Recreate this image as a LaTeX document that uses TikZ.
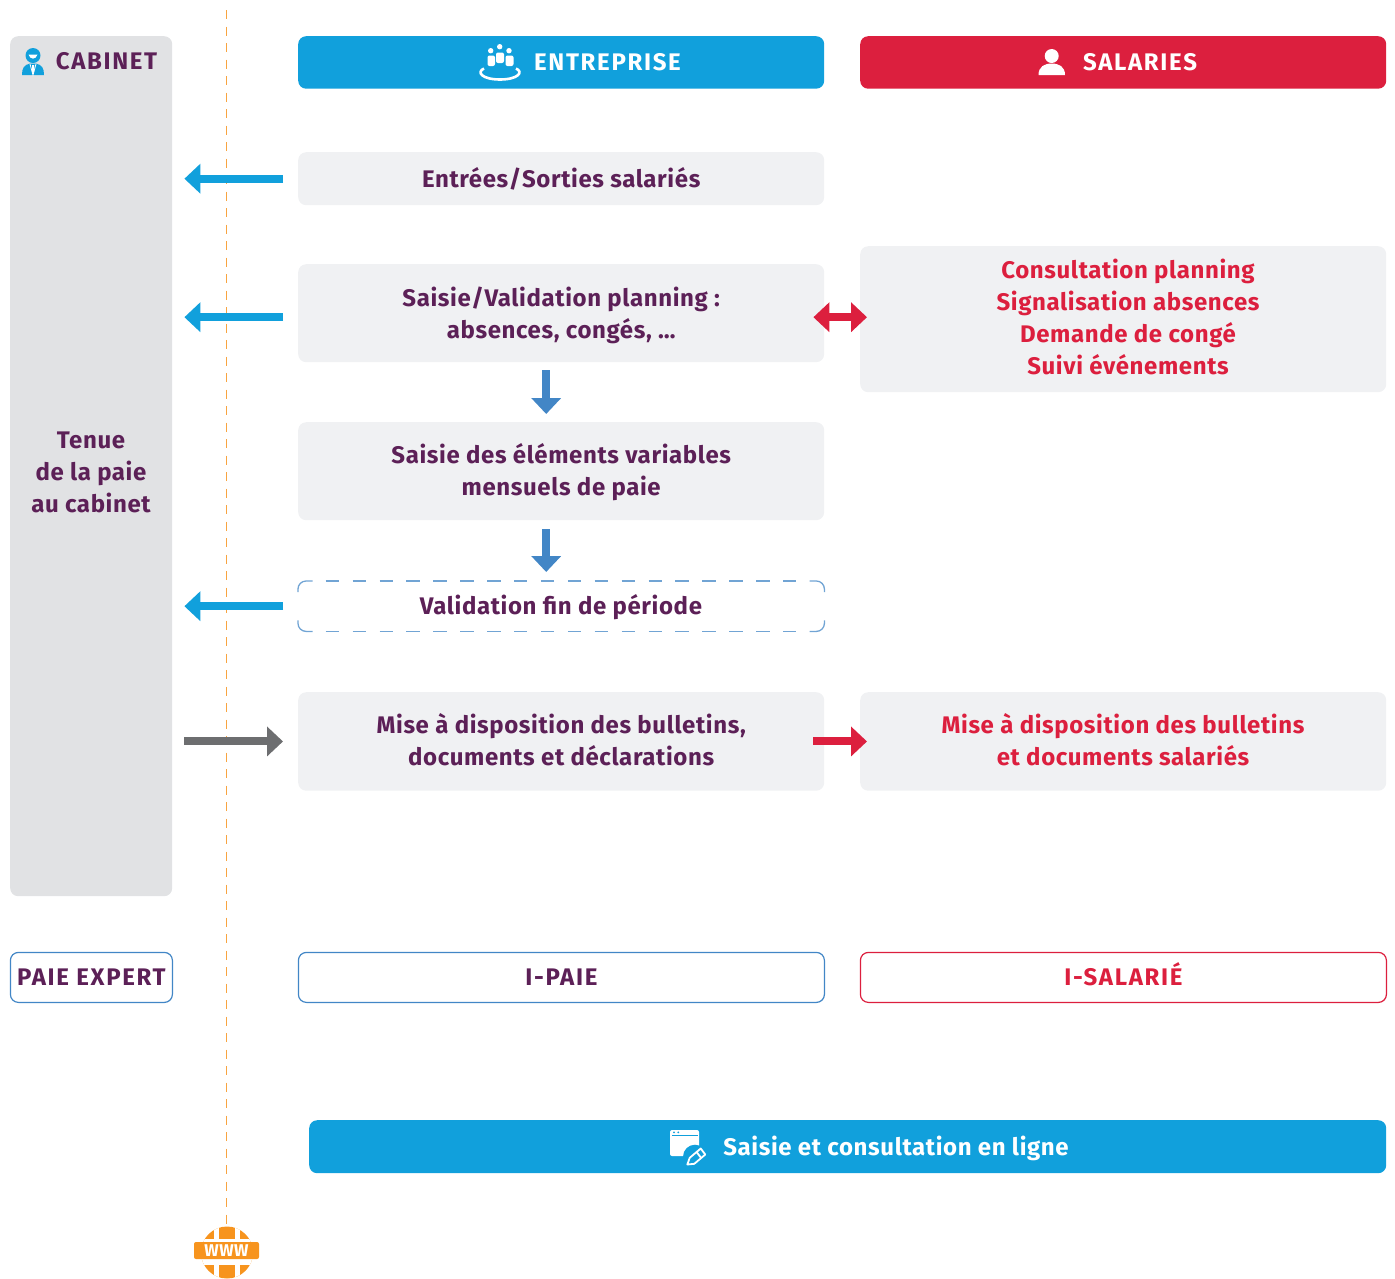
\documentclass[tikz,border=0pt]{standalone}
\usepackage{fontspec}
\setmainfont{Fira Sans}[LetterSpace=2.6]
\newfontfamily\capsf{Fira Sans}[LetterSpace=7]
\usetikzlibrary{arrows.meta,calc}
\definecolor{cabgrey}{HTML}{E1E2E4}
\definecolor{boxgrey}{HTML}{F0F1F3}
\definecolor{ablue}{HTML}{11A0DC}
\definecolor{ared}{HTML}{DC1F3E}
\definecolor{apurple}{HTML}{5C2057}
\definecolor{dblue}{HTML}{4286C6}
\definecolor{agrey}{HTML}{6D6E70}
\definecolor{aorange}{HTML}{F7941E}
\newcommand{\sx}{\rule{0pt}{23pt}\rule[-6pt]{0pt}{6pt}}
\tikzset{
  base/.style={rounded corners=8pt,anchor=north west,inner sep=0pt,align=center,font=\fontsize{24}{32}\selectfont\bfseries},
  greybox/.style={base,fill=boxgrey,text=apurple},
  redbox/.style={base,fill=boxgrey,text=ared},
  head/.style={base,text=white},
  outline/.style={base,draw,line width=1.2pt,fill=white},
  label/.style={inner sep=0pt,align=center,font=\fontsize{24}{32}\selectfont\bfseries},
  arr/.style={line width=8pt,-{Triangle[length=16pt,width=29pt]}},
  dblarr/.style={line width=8pt,{Triangle[length=16pt,width=29pt]}-{Triangle[length=16pt,width=29pt]}},
  dashpart/.style={dblue!75,line width=1.3pt},
}
\newcommand{\bx}[7][]{\node[#2,minimum width=#5pt,minimum height=#6pt,#1] (#3) at #4 {#7};}
\begin{document}
\begin{tikzpicture}[x=1pt,y=-1pt]
\useasboundingbox (0,0) rectangle (1395,1278);
% boxes
\bx{base,fill=cabgrey,text=apurple}{cab}{(10,36)}{162}{860}{}
\bx{head,fill=ablue}{ent}{(298,36)}{526}{52.5}{}
\bx{head,fill=ared}{sal}{(860,36)}{526}{52.5}{}
\bx{greybox}{es}{(298,152)}{526}{53}{\sx Entrées/Sorties salariés}
\bx{greybox}{sp}{(298,264)}{526}{98}{\rule{0pt}{25pt}Saisie/Validation planning :\\\sx absences, congés, …}
\bx{greybox}{sv}{(298,422)}{526}{98}{\sx Saisie des éléments variables\\\sx mensuels de paie}
\bx{base}{vf}{(298,581)}{526}{50}{}
\bx{greybox}{mb}{(298,692)}{526}{98.5}{\sx Mise à disposition des bulletins,\\\sx documents et déclarations}
\bx{redbox}{cp}{(860,246)}{526}{146}{}
\bx{redbox}{ms}{(860,692)}{526}{98.5}{}
\bx{outline,draw=dblue,text=apurple}{pe}{(9.8,951.8)}{162}{50}{\sx\capsf PAIE EXPERT}
\bx{outline,draw=dblue,text=apurple}{ip}{(297.8,951.8)}{526}{50}{\sx\capsf I-PAIE}
\bx{outline,draw=ared,text=ared}{is}{(859.8,951.8)}{526}{50}{\sx\capsf I-SALARIÉ}
\bx{head,fill=ablue}{sl}{(309,1120)}{1077}{53}{}
% dashed outline of validation box
\draw[dashpart,rounded corners=8pt] ([yshift=-11pt]vf.north west) |- ([xshift=14.7pt]vf.north west);
\draw[dashpart,rounded corners=8pt] ([yshift=11pt]vf.south west) |- ([xshift=14.7pt]vf.south west);
\draw[dashpart,rounded corners=8pt] ([yshift=-11pt]vf.north east) |- ([xshift=-14.7pt]vf.north east);
\draw[dashpart,rounded corners=8pt] ([yshift=11pt]vf.south east) |- ([xshift=-14.7pt]vf.south east);
\draw[dashpart,dash pattern=on 13.45pt off 13.45pt] ([xshift=27.7pt]vf.north west) -- ([xshift=-27.7pt]vf.north east);
\draw[dashpart,dash pattern=on 13.45pt off 13.45pt] ([xshift=27.7pt]vf.south west) -- ([xshift=-27.7pt]vf.south east);
% labels
\node[label,text=apurple] (ltp) at (91,472) {\sx Tenue\\\sx de la paie\\\sx au cabinet};
\node[label,text=apurple] (lcab) at (106.5,61) {\sx\capsf CABINET};
\node[label,text=white] (lent) at (607.5,61.5) {\sx\capsf ENTREPRISE};
\node[label,text=white] (lsal) at (1140,61.5) {\sx\capsf SALARIES};
\node[label,text=apurple] (lvf) at (561,606) {\sx Validation fin de période};
\node[label,text=ared] (lcp) at (1128,318) {\sx Consultation planning\\\sx Signalisation absences\\\sx Demande de congé\\\sx Suivi événements};
\node[label,text=ared] (lms) at (1123,741) {\sx Mise à disposition des bulletins\\\sx et documents salariés};
\node[label,text=white] (lsl) at (896,1147) {\sx Saisie et consultation en ligne};
% www globe
\begin{scope}
  \clip (227,1252.5) circle (26);
  \fill[aorange] (200,1225) rectangle (254,1279);
  \fill[white] (213.5,1225) rectangle (219,1279);
  \fill[white] (234.5,1225) rectangle (240,1279);
  \fill[white] (200,1238.5) rectangle (254,1242);
  \fill[white] (200,1259) rectangle (254,1265);
\end{scope}
\node[fill=aorange,rounded corners=2pt,minimum width=65pt,minimum height=17pt,inner sep=0pt,text=white,font=\fontsize{17}{17}\selectfont\bfseries] (www) at (226.5,1250.5) {\rule{0pt}{12pt}WWW};
% vertical dashed line
\coordinate (topdash) at (226.5,10);
\draw[aorange!85,line width=1.6pt,dash pattern=on 9pt off 7.5pt,shorten >=16pt] (topdash) -- (www.north -| topdash);
% connectors
\draw[arr,ablue,shorten <=15pt,shorten >=12pt] (es.west) -- (es.west -| cab.east);
\draw[arr,ablue,shorten <=15pt,shorten >=12pt] ([yshift=-4pt]sp.west) -- ([yshift=-4pt]sp.west -| cab.east);
\draw[arr,ablue,shorten <=15pt,shorten >=12pt] (vf.west) -- (vf.west -| cab.east);
\draw[arr,agrey,shorten <=12pt,shorten >=15pt] (mb.west -| cab.east) -- (mb.west);
\draw[arr,dblue,shorten <=8pt,shorten >=8pt] ([xshift=-15pt]sp.south) -- ([xshift=-15pt]sv.north);
\draw[arr,dblue,shorten <=9pt,shorten >=9pt] ([xshift=-15pt]sv.south) -- ([xshift=-15pt]vf.north);
\draw[dblarr,ared,shorten <=-11pt,shorten >=-7pt] ([yshift=-4pt]sp.east) -- ([yshift=-4pt]sp.east -| cp.west);
\draw[arr,ared,shorten <=-11pt,shorten >=-7pt] (mb.east) -- (ms.west);
% cabinet icon
\fill[ablue] (33,55.5) circle (7.5);
\fill[white] (28.5,54.5) .. controls (30,60) and (36,60) .. (37.5,54.5) -- cycle;
\fill[ablue] (22,75) .. controls (22,68) and (24,65) .. (30,63.5) -- (36,63.5) .. controls (42,65) and (44,68) .. (44,75) -- cycle;
\draw[white,line width=.8pt] (30,64) -- (33,75) -- (36,64);
\fill[white] (32,65) -- (34,65) -- (34,72) -- (33,73.5) -- (32,72) -- cycle;
% entreprise icon
\foreach \px/\py in {490.7/50.7,499.7/46.7,509/50.7} \fill[white] (\px,\py) circle (2.7);
\fill[white,rounded corners=2pt] (487.5,55.5) rectangle (495,66);
\fill[white,rounded corners=2pt] (496,52.5) rectangle (504,63);
\fill[white,rounded corners=2pt] (505.5,55.5) rectangle (513.5,66);
\draw[white,line width=2.6pt] (484,68.5) .. controls (476,72) and (482,79.5) .. (500,79.5) .. controls (518,79.5) and (524,72) .. (516,68.5);
% salaries icon
\fill[white] (1051.7,56) circle (7);
\fill[white] (1038.5,75) .. controls (1038.5,67) and (1044,63.5) .. (1051.7,63.5) .. controls (1059.5,63.5) and (1065,67) .. (1065,75) -- cycle;
% online icon
\fill[white,rounded corners=2pt] (670,1130) rectangle (699,1156);
\fill[ablue] (671.5,1135) rectangle (697.5,1136);
\fill[ablue] (674,1132.3) circle (1) (678.3,1132.3) circle (1);
\fill[ablue] (695,1156.7) circle (12);
\draw[white,line width=1.8pt,line join=round] (687.3,1164.5) -- (689.7,1157.8) -- (700.7,1148.5) -- (705.3,1154.5) -- (694.3,1163.8) -- cycle;
\draw[white,line width=1.8pt] (696.8,1152.3) -- (701.4,1158.3);
\end{tikzpicture}
\end{document}
